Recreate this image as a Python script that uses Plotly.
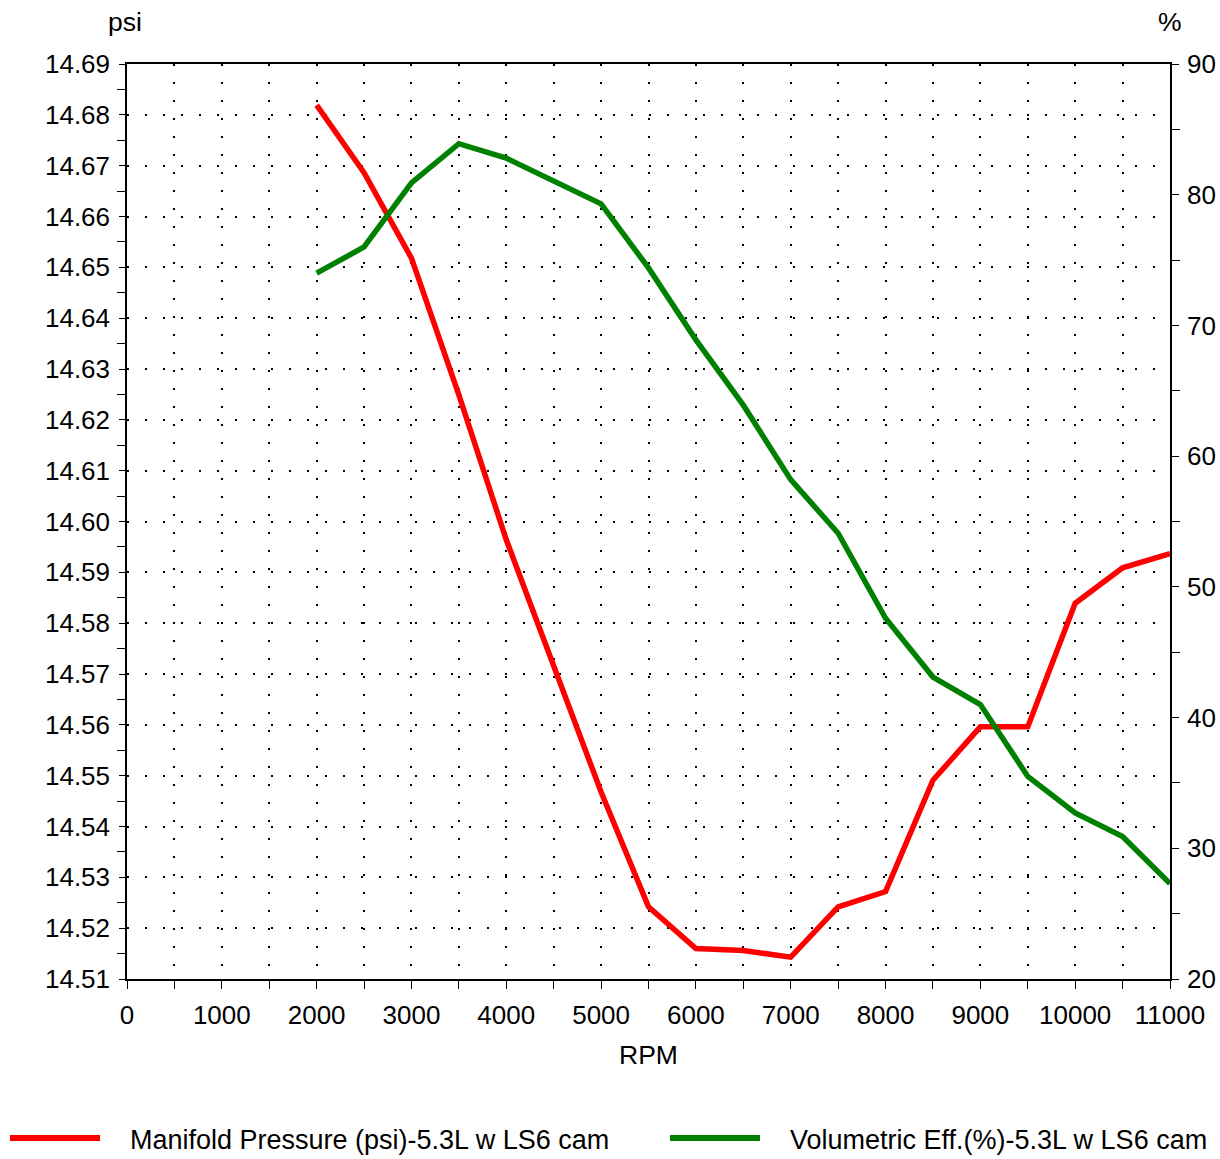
import plotly.graph_objects as go

rpm = [2000, 2500, 3000, 3500, 4000, 4500, 5000, 5500, 6000, 6500,
       7000, 7500, 8000, 8500, 9000, 9500, 10000, 10500, 11000]
manifold_pressure = [14.6819, 14.6686, 14.6518, 14.6249, 14.5964, 14.5714, 14.5468,
                     14.5242, 14.5160, 14.5156, 14.5143, 14.5242, 14.5272, 14.5491,
                     14.5596, 14.5596, 14.5839, 14.5909, 14.5937]
volumetric_eff = [74.0, 76.0, 80.9, 83.9, 82.8, 81.05, 79.3, 74.4, 68.9, 63.9,
                  58.2, 54.1, 47.6, 43.1, 41.0, 35.5, 32.7, 30.9, 27.3]

name_mp = "Manifold Pressure (psi)-5.3L w LS6 cam"
name_ve = "Volumetric Eff.(%)-5.3L w LS6 cam"
RED = "#ff0000"
GREEN = "#008000"
FONT = "Arial, Liberation Sans, sans-serif"
FS_TICK = 26
FS_TEXT = 26.5
FS_LEG = 27

fig = go.Figure()
fig.add_trace(go.Scatter(x=rpm, y=manifold_pressure, mode="lines", name=name_mp,
                         line=dict(color=RED, width=5.5), yaxis="y", showlegend=False))
fig.add_trace(go.Scatter(x=rpm, y=volumetric_eff, mode="lines", name=name_ve,
                         line=dict(color=GREEN, width=5.5), yaxis="y2", showlegend=False))

grid_dash = "2px,16px"

fig.update_layout(
    width=1220, height=1159,
    margin=dict(l=127, r=50, t=64, b=180, autoexpand=False),
    paper_bgcolor="white", plot_bgcolor="white",
    font=dict(family=FONT, size=FS_TICK, color="black"),
    xaxis=dict(range=[0, 11000], tick0=0, dtick=1000, tickformat="d",
               showline=True, linecolor="black",
               linewidth=1.5, mirror=True, ticks="outside", ticklen=8, tickcolor="black",
               showgrid=True, gridcolor="black", gridwidth=2, griddash=grid_dash,
               zeroline=False, tickfont=dict(size=FS_TICK), ticklabelstandoff=4,
               minor=dict(dtick=500, tick0=0, ticks="outside", ticklen=8, tickcolor="black",
                          showgrid=True, gridcolor="black", gridwidth=2, griddash=grid_dash)),
    yaxis=dict(range=[14.51, 14.69], tick0=14.51, dtick=0.01, tickformat=".2f",
               showline=True, linecolor="black", linewidth=1.5, mirror=True,
               ticks="outside", ticklen=6, tickcolor="black",
               showgrid=True, gridcolor="black", gridwidth=2, griddash=grid_dash,
               zeroline=False, tickfont=dict(size=FS_TICK), ticklabelstandoff=4,
               minor=dict(dtick=0.005, tick0=14.51, ticks="outside", ticklen=8,
                          tickcolor="black", showgrid=False)),
    yaxis2=dict(range=[20, 90], tick0=20, dtick=10, overlaying="y", side="right",
                showline=True, linecolor="black", linewidth=1.5,
                ticks="outside", ticklen=7, tickcolor="black", showgrid=False,
                zeroline=False, tickfont=dict(size=FS_TICK), ticklabelstandoff=3,
                minor=dict(dtick=5, tick0=20, ticks="outside", ticklen=8,
                           tickcolor="black", showgrid=False)),
    showlegend=False,
)

def px_x(X):
    return (X - 127) / 1043.0

def px_y(Y):
    return (979 - Y) / 915.0

annotations = [
    dict(text="psi", x=px_x(125), y=px_y(22), size=FS_TEXT),
    dict(text="%", x=px_x(1170), y=px_y(22), size=FS_TEXT),
    dict(text="RPM", x=px_x(648), y=px_y(1055), size=FS_TEXT),
    dict(text=name_mp, x=px_x(128), y=px_y(1140), xanchor="left", size=FS_LEG),
    dict(text=name_ve, x=px_x(788), y=px_y(1140), xanchor="left", size=FS_LEG),
]
for a in annotations:
    fig.add_annotation(xref="paper", yref="paper", showarrow=False,
                       xanchor=a.get("xanchor", "center"), yanchor="middle",
                       font=dict(size=a["size"], color="black", family=FONT),
                       text=a["text"], x=a["x"], y=a["y"])

for (x0, x1, col) in [(10, 100, RED), (670, 760, GREEN)]:
    fig.add_shape(type="line", xref="paper", yref="paper",
                  x0=px_x(x0), x1=px_x(x1), y0=px_y(1138), y1=px_y(1138),
                  line=dict(color=col, width=6))

fig.write_html(
    "out.html",
    config={"displayModeBar": False},
    post_script=(
        "document.body.style.margin='0';"
        "document.body.style.overflow='hidden';"
        "document.documentElement.style.overflow='hidden';"
    ),
)
